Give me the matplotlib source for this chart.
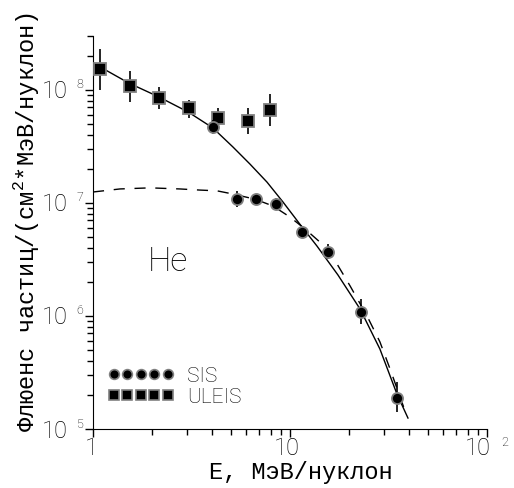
import matplotlib
matplotlib.use('Agg')
import matplotlib.pyplot as plt
from matplotlib.lines import Line2D
import matplotlib.transforms as mtransforms

# ULEIS (квадраты)
uleis_e = [1.085, 1.54, 2.16, 3.07, 4.31, 6.13, 7.9]
uleis_f = [1.53e8, 1.08e8, 8.5e7, 6.9e7, 5.65e7, 5.3e7, 6.65e7]
uleis_lo = [1.0e8, 7.8e7, 6.8e7, 5.65e7, 4.6e7, 4.1e7, 4.8e7]
uleis_hi = [2.3e8, 1.47e8, 1.06e8, 8.2e7, 6.9e7, 6.9e7, 9.2e7]

# SIS (кружки)
sis_e = [4.06, 5.38, 6.7, 8.5, 11.5, 15.6, 22.9, 34.9]
sis_f = [4.7e7, 1.08e7, 1.08e7, 9.8e6, 5.5e6, 3.68e6, 1.08e6, 1.88e5]
sis_lo = [4.1e7, 9.2e6, 1.02e7, 8.7e6, 5.2e6, 3.2e6, 8.5e5, 1.41e5]
sis_hi = [5.4e7, 1.28e7, 1.14e7, 1.1e7, 5.8e6, 4.3e6, 1.41e6, 2.6e5]

# аппроксимации (сплошная и штриховая)
fit1_e = [1.085, 1.52, 2.16, 3.04, 4.06, 5.13, 6.26, 7.64, 9.21, 11.2, 13.7,
          17.5, 22.7, 28.6, 34.9, 39.7]
fit1_f = [1.6e8, 1.15e8, 8.67e7, 6.38e7, 4.61e7, 3.13e7, 2.21e7, 1.53e7,
          1.02e7, 6.52e6, 4.16e6, 2.31e6, 1.15e6, 5.1e5, 2.04e5, 1.25e5]
fit2_e = [1.0, 1.37, 1.95, 2.76, 3.49, 4.26, 5.13, 6.64, 8.2, 10.0, 11.9,
          14.2, 16.5, 20.2, 24.6, 28.6, 32.2, 35.3, 38.4]
fit2_f = [1.25e7, 1.33e7, 1.36e7, 1.33e7, 1.30e7, 1.28e7, 1.20e7, 1.08e7,
          9.4e6, 7.5e6, 5.9e6, 4.5e6, 3.33e6, 1.84e6, 1.0e6, 5.9e5, 3.4e5,
          2.17e5, 1.44e5]

y_exps = [5, 6, 7, 8]

thin = 'Roboto'
mono = 'Liberation Mono'
plt.rcParams['mathtext.fontset'] = 'custom'
plt.rcParams['mathtext.rm'] = mono

fig = plt.figure(figsize=(5.14, 4.89), dpi=100)
ax = fig.add_axes([93/514, 59/489, 394/514, 393/489])
ax.set_xscale('log')
ax.set_yscale('log')
ax.set_xlim(1, 100)
ax.set_ylim(1e5, 3e8)

ax.plot(fit1_e, fit1_f, color='black', lw=1.0)
ax.plot(fit2_e, fit2_f, color='black', lw=1.0, dashes=(8, 7))

def yerr(f, lo, hi):
    return [[a - b for a, b in zip(f, lo)], [b - a for a, b in zip(f, hi)]]

ax.errorbar(uleis_e, uleis_f, yerr=yerr(uleis_f, uleis_lo, uleis_hi), fmt='s',
            ms=8, mfc='black', mec='#808080', mew=1.3, ecolor='black',
            elinewidth=1.2, capsize=0, zorder=3)
ax.errorbar(sis_e, sis_f, yerr=yerr(sis_f, sis_lo, sis_hi), fmt='o',
            ms=8, mfc='black', mec='#808080', mew=1.3, ecolor='black',
            elinewidth=1.2, capsize=0, zorder=4)

for s in ['top', 'right']:
    ax.spines[s].set_visible(False)
ax.tick_params(which='major', direction='out', length=6, width=1, labelleft=False, labelbottom=False)
ax.tick_params(which='minor', direction='out', length=4, width=1, labelleft=False, labelbottom=False)

# подписи делений
lab = dict(family=thin, fontweight='light', color='black')
ytr = mtransforms.blended_transform_factory(ax.transAxes, ax.transData)
for e in y_exps:
    ax.annotate('10', xy=(0, 10.0**e), xycoords=ytr, xytext=(-25, -1),
                textcoords='offset pixels', ha='right', va='center', fontsize=17, **lab)
    ax.annotate(str(e), xy=(0, 10.0**e), xycoords=ytr, xytext=(-13, 6),
                textcoords='offset pixels', ha='center', va='center', fontsize=9, **lab)

xtr = mtransforms.blended_transform_factory(ax.transData, ax.transAxes)
ax.annotate('1', xy=(1, 0), xycoords=xtr, xytext=(-2, -19), textcoords='offset pixels',
            ha='center', va='center', fontsize=17, **lab)
ax.annotate('10', xy=(10, 0), xycoords=xtr, xytext=(-3, -19), textcoords='offset pixels',
            ha='center', va='center', fontsize=17, **lab)
ax.annotate('10', xy=(100, 0), xycoords=xtr, xytext=(-9, -19), textcoords='offset pixels',
            ha='center', va='center', fontsize=17, **lab)
ax.annotate('2', xy=(100, 0), xycoords=xtr, xytext=(18, -13), textcoords='offset pixels',
            ha='center', va='center', fontsize=9, **lab)

ax.text(148/514, 1 - 262/489, 'He', transform=fig.transFigure, ha='left', va='center',
        fontsize=24, **lab)

handles = [Line2D([], [], ls='none', marker='o', ms=7, mfc='black', mec='#808080', mew=1.2),
           Line2D([], [], ls='none', marker='s', ms=7, mfc='black', mec='#808080', mew=1.2)]
leg = ax.legend(handles, ['SIS', 'ULEIS'], loc='upper left', bbox_to_anchor=(0.037, 0.16),
                numpoints=5, handlelength=3.2, handletextpad=0.6, labelspacing=0.1,
                borderpad=0, borderaxespad=0, frameon=False,
                prop={'family': thin, 'weight': 'light', 'size': 15})

fig.text(301/514, 1 - 472/489, 'E, МэВ/нуклон', ha='center', va='center',
         fontsize=17, family=mono)
fig.text(26/514, 1 - 222/489, 'Флюенс частиц/(см$^2$*МэВ/нуклон)', ha='center', va='center',
         rotation=90, fontsize=17, family=mono)

fig.savefig('out.png', dpi=100)
